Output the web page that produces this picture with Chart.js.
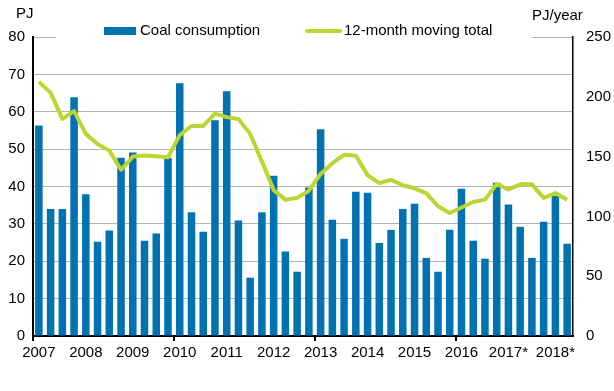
<!DOCTYPE html>
<html>
<head>
<meta charset="utf-8">
<script src="https://cdn.jsdelivr.net/npm/chart.js@4"></script>
<style>
  body { margin: 0; background: #fff; }
  canvas { display: block; }
</style>
</head>
<body>
<canvas id="myChart" width="614" height="391"></canvas>
<script>
// quarters 2007Q1 .. 2018Q2
const quarters = [];
for (let y = 2007; y <= 2018; y++) {
  for (let q = 1; q <= 4; q++) {
    if (y === 2018 && q > 2) break;
    quarters.push(y + "Q" + q);
  }
}
const yearLabels = ["2007", "2008", "2009", "2010", "2011", "2012", "2013", "2014", "2015", "2016", "2017*", "2018*"];

// Coal consumption, PJ per quarter
const coalConsumption = [
  56.3, 34.0, 34.0, 63.9,
  37.9, 25.2, 28.2, 47.7,
  49.1, 25.5, 27.4, 47.7,
  67.6, 33.1, 27.9, 57.7,
  65.5, 30.9, 15.6, 33.1,
  42.9, 22.6, 17.2, 39.7,
  55.3, 31.1, 26.0, 38.6,
  38.3, 24.9, 28.4, 34.0,
  35.4, 20.9, 17.2, 28.4,
  39.4, 25.5, 20.7, 41.0,
  35.2, 29.2, 20.9, 30.6,
  37.5, 24.7,
];

// 12-month moving total, PJ/year
const movingTotal = [
  212.5, 203.5, 181.5, 188.0,
  169.0, 160.5, 155.0, 139.0,
  150.0, 151.0, 150.2, 149.5,
  168.0, 175.6, 175.6, 186.0,
  183.0, 181.5, 169.0, 146.0,
  122.0, 114.0, 115.5, 121.5,
  135.5, 144.5, 151.5, 150.8,
  134.5, 127.8, 130.5, 126.0,
  123.5, 119.5, 108.5, 102.8,
  107.5, 112.0, 114.0, 127.0,
  122.5, 126.8, 126.8, 115.5,
  119.5, 114.0,
];

const barColor = "#0072b2";
const lineColor = "#bcd631";
const gridColor = "#b3b3b3";
const fontFamily = '"Liberation Sans", Arial, sans-serif';

Chart.defaults.font.family = fontFamily;
Chart.defaults.font.size = 15;
Chart.defaults.color = "#000";

// legend and axis unit titles drawn by hand
const extrasPlugin = {
  id: "extras",
  afterDraw(chart) {
    const ctx = chart.ctx;
    ctx.save();
    ctx.fillStyle = "#fff";
    ctx.fillRect(56, 20, 476, 24);

    ctx.font = "15px " + fontFamily;
    ctx.fillStyle = "#000";
    ctx.textBaseline = "middle";
    ctx.textAlign = "left";
    ctx.fillText("PJ", 16, 14);
    ctx.fillText("PJ/year", 532, 16);

    ctx.fillStyle = barColor;
    ctx.fillRect(104, 27, 32, 8);
    ctx.fillStyle = "#000";
    ctx.fillText("Coal consumption", 140, 31);

    ctx.strokeStyle = lineColor;
    ctx.lineWidth = 4;
    ctx.lineCap = "round";
    ctx.beginPath();
    ctx.moveTo(307, 31);
    ctx.lineTo(340, 31);
    ctx.stroke();
    ctx.fillText("12-month moving total", 344, 31);
    ctx.restore();
  },
};

const config = {
  type: "bar",
  data: {
    labels: quarters,
    datasets: [
      {
        type: "line",
        label: "12-month moving total",
        data: movingTotal,
        yAxisID: "y1",
        borderColor: lineColor,
        backgroundColor: lineColor,
        borderWidth: 4,
        pointRadius: 0,
        tension: 0,
        borderJoinStyle: "round",
        order: 0,
      },
      {
        label: "Coal consumption",
        data: coalConsumption,
        yAxisID: "y",
        backgroundColor: barColor,
        categoryPercentage: 1,
        barPercentage: 0.64,
        order: 1,
      },
    ],
  },
  options: {
    responsive: false,
    animation: false,
    layout: { padding: { top: 37, left: 0, right: 0, bottom: 0 } },
    plugins: {
      legend: { display: false },
      tooltip: { enabled: false },
    },
    scales: {
      x: {
        offset: true,
        grid: {
          offset: true,
          drawOnChartArea: false,
          tickLength: 5,
          color: (c) => (c.index % 12 === 0 ? "#000" : "rgba(0,0,0,0)"),
          lineWidth: 2,
        },
        border: { color: "#000", width: 2 },
        ticks: {
          autoSkip: false,
          maxRotation: 0,
          padding: 3,
          callback: (val, i) => (i % 4 === 0 ? yearLabels[i / 4] : ""),
        },
        afterFit: (scale) => {
          scale.height = 55;
        },
      },
      y: {
        position: "left",
        min: 0,
        max: 80,
        ticks: { stepSize: 10, padding: 8 },
        grid: { color: gridColor, lineWidth: 1, drawTicks: false },
        border: { color: "#000", width: 2 },
        afterFit: (scale) => {
          scale.width = 33;
        },
      },
      y1: {
        position: "right",
        min: 0,
        max: 250,
        ticks: { stepSize: 50, padding: 13 },
        grid: { drawOnChartArea: false, drawTicks: false },
        border: { color: "#000", width: 1.5 },
        afterFit: (scale) => {
          scale.width = 41;
        },
      },
    },
  },
  plugins: [extrasPlugin],
};

const myChart = new Chart(document.getElementById("myChart"), config);
</script>
</body>
</html>
